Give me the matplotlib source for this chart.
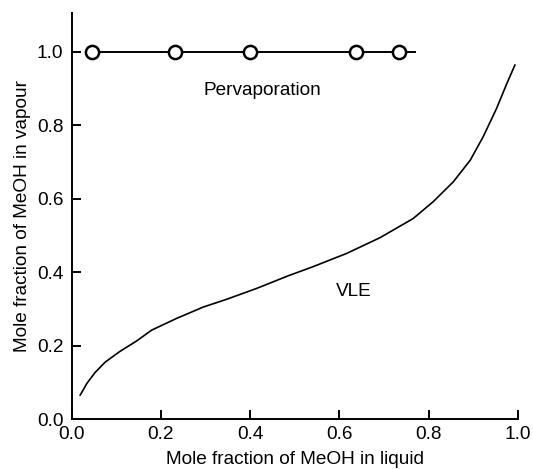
import matplotlib
matplotlib.use("Agg")
import matplotlib.pyplot as plt

plt.rcParams['font.family'] = ['Liberation Sans', 'DejaVu Sans']

# pervaporation measurements (open circles) and the line through them
perv_x = [0.045, 0.232, 0.399, 0.637, 0.734]
perv_y = [1.0, 1.0, 1.0, 1.0, 1.0]
perv_line_x = [0.045, 0.232, 0.399, 0.637, 0.734, 0.770]
perv_line_y = [1.0, 1.0, 1.0, 1.0, 1.0, 1.0]

# vapour-liquid equilibrium curve
vle_x = [0.019, 0.034, 0.052, 0.075, 0.108, 0.146, 0.179, 0.235, 0.295,
         0.347, 0.415, 0.485, 0.541, 0.616, 0.691, 0.765, 0.810, 0.855,
         0.893, 0.922, 0.952, 0.975, 0.993]
vle_y = [0.065, 0.097, 0.126, 0.155, 0.184, 0.213, 0.242, 0.274, 0.305,
         0.326, 0.356, 0.390, 0.415, 0.451, 0.494, 0.546, 0.592, 0.646,
         0.705, 0.769, 0.846, 0.914, 0.964]

ticks = [0.0, 0.2, 0.4, 0.6, 0.8, 1.0]

fig = plt.figure(figsize=(5.33, 4.69), dpi=100)
ax = fig.add_axes([0.1345, 0.1066, 0.8374, 0.865])

ax.plot(perv_line_x, perv_line_y, color='black', linewidth=1.4)
ax.plot(perv_x, perv_y, 'o', color='black', markerfacecolor='white',
        markersize=9.5, markeredgewidth=1.8)
ax.plot(vle_x, vle_y, color='black', linewidth=1.2)

ax.text(0.427, 0.894, 'Pervaporation', ha='center', va='center', fontsize=13.7)
ax.text(0.633, 0.346, 'VLE', ha='center', va='center', fontsize=13.7)

ax.set_xlim(0, 1.0)
ax.set_ylim(0, 1.105)
ax.set_xticks(ticks)
ax.set_yticks(ticks)
ax.set_xticklabels([f'{t:.1f}' for t in ticks])
ax.set_yticklabels([f'{t:.1f}' for t in ticks])
ax.tick_params(direction='in', length=6.5, width=1.4, labelsize=13.7)
ax.tick_params(axis='y', pad=6)
ax.tick_params(axis='x', pad=5)
ax.spines['top'].set_visible(False)
ax.spines['right'].set_visible(False)
for s in ['left', 'bottom']:
    ax.spines[s].set_linewidth(1.4)
ax.set_xlabel('Mole fraction of MeOH in liquid', fontsize=13.7, labelpad=6)
ax.set_ylabel('Mole fraction of MeOH in vapour', fontsize=13.7, labelpad=4)

fig.savefig('out.png', dpi=100)
